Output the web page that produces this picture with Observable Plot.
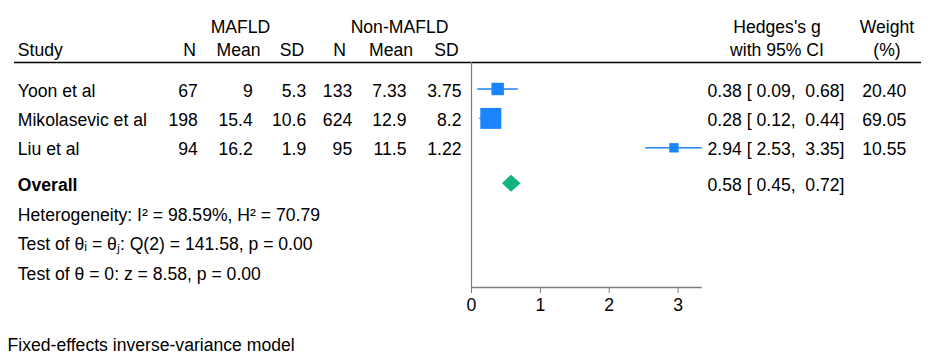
<!DOCTYPE html>
<html>
<head>
<meta charset="utf-8">
<script src="https://cdn.jsdelivr.net/npm/d3@7"></script>
<script src="https://cdn.jsdelivr.net/npm/@observablehq/plot@0.6"></script>
<style>
  html, body { margin: 0; padding: 0; background: #fff; }
  #chart { width: 936px; height: 356px; position: relative; overflow: hidden; font-family: "Liberation Sans", Arial, Helvetica, sans-serif; }
  #chart svg { display: block; }
  #caption { font-size: 17.6px; line-height: 1; color: #000; padding-left: 7.5px; padding-top: 19px; }
</style>
</head>
<body>
<div id="chart"></div>
<script>
// ---- data ----
const studies    = ["Yoon et al", "Mikolasevic et al", "Liu et al"];
const mafldN     = [67, 198, 94];
const mafldMean  = [9, 15.4, 16.2];
const mafldSD    = [5.3, 10.6, 1.9];
const nonN       = [133, 624, 95];
const nonMean    = [7.33, 12.9, 11.5];
const nonSD      = [3.75, 8.2, 1.22];
const hedgesG    = [0.38, 0.28, 2.94];
const ciLow      = [0.09, 0.12, 2.53];
const ciHigh     = [0.68, 0.44, 3.35];
const weightPct  = [20.40, 69.05, 10.55];
const overallLabel = "Overall";
const overallG   = 0.58;
const overallLow = 0.45;
const overallHigh = 0.72;
const statLines  = [
  "Heterogeneity: I\u00B2 = 98.59%, H\u00B2 = 70.79",
  "Test of \u03B8\u1D62 = \u03B8\u2C7C: Q(2) = 141.58, p = 0.00",
  "Test of \u03B8 = 0: z = 8.58, p = 0.00"
];
const xTicks = [0, 1, 2, 3];
const groupHeaders = ["MAFLD", "Non-MAFLD"];
const colHeaders = ["N", "Mean", "SD", "N", "Mean", "SD"];
const effectHeader = ["Hedges's g", "with 95% CI"];
const weightHeader = ["Weight", "(%)"];
const captionText = "Fixed-effects inverse-variance model";

// ---- layout / style ----
const W = 936, H = 318;
const mL = 14, mR = 15, mT = 62, mB = 31;
const FS = 17.6;
const blue = "#1a85ff", green = "#12b47e", grey = "#7f7f7f";
const summaryGap = 0.22;       // extra row space before the overall block
const rowHeadTop = -2.08, rowHeadBottom = -1.3; // header rows (row units)
const rowStart = -0.9, rowEnd = 6.75;
const dxOf = px => px - mL;    // pixel column -> dx from left frame edge

const f2 = d3.format(".2f");
const pad5 = s => (s.length < 5 ? "\u00A0".repeat(5 - s.length) : "") + s;
const ciText = (g, lo, hi) => `${f2(g)} [${pad5(f2(lo))},\u00A0${pad5(f2(hi))}]`;

const rows = studies.map((s, i) => ({
  study: s, row: i,
  n1: mafldN[i], m1: mafldMean[i], s1: mafldSD[i],
  n2: nonN[i], m2: nonMean[i], s2: nonSD[i],
  g: hedgesG[i], lo: ciLow[i], hi: ciHigh[i], w: weightPct[i],
  ci: ciText(hedgesG[i], ciLow[i], ciHigh[i]),
  wt: f2(weightPct[i])
}));
const overallRow = studies.length + summaryGap;
const summary = [{label: overallLabel, row: overallRow, ci: ciText(overallG, overallLow, overallHigh)}];
const stats = statLines.map((t, j) => ({label: t, row: overallRow + 1 + j}));
const halfH = 0.29; // diamond half-height in row units
const diamond = [
  {x: overallLow,  y1: overallRow, y2: overallRow},
  {x: overallG,    y1: overallRow - halfH, y2: overallRow + halfH},
  {x: overallHigh, y1: overallRow, y2: overallRow}
];

// column positions (px, right edges for numbers; centres for headers)
const numCols = [
  {key: "n1", px: 197.3}, {key: "m1", px: 252.3}, {key: "s1", px: 305.7},
  {key: "n2", px: 351.7}, {key: "m2", px: 406},   {key: "s2", px: 461}
];
const headCentres = [189, 238, 291.5, 339, 390.5, 446];
const groupCentres = [240, 399];
const effectRight = 844, weightRight = 905.7, effectCentre = 776.5, weightCentre = 886.5;
const studyLeft = 17.3;
const textDy = 2;

const marks = [
  Plot.ruleY([rowStart], {stroke: "#000", strokeWidth: 1.4}),
  Plot.ruleX([0], {stroke: grey, strokeWidth: 1.2}),
  Plot.ruleY([rowEnd], {x1: () => 0, x2: () => d3.max(ciHigh), stroke: grey, strokeWidth: 1.3}),
  // headers
  Plot.text([{t: "Study"}], {text: "t", y: () => rowHeadBottom, frameAnchor: "left", dx: dxOf(studyLeft), textAnchor: "start", fontSize: FS}),
  ...colHeaders.map((h, i) => Plot.text([{t: h}], {text: "t", y: () => rowHeadBottom, frameAnchor: "left", dx: dxOf(headCentres[i]), textAnchor: "middle", fontSize: FS})),
  ...groupHeaders.map((h, i) => Plot.text([{t: h}], {text: "t", y: () => rowHeadTop, frameAnchor: "left", dx: dxOf(groupCentres[i]), textAnchor: "middle", fontSize: FS})),
  Plot.text([{t: effectHeader[0]}], {text: "t", y: () => rowHeadTop, frameAnchor: "left", dx: dxOf(effectCentre), textAnchor: "middle", fontSize: FS}),
  Plot.text([{t: effectHeader[1]}], {text: "t", y: () => rowHeadBottom, frameAnchor: "left", dx: dxOf(effectCentre), textAnchor: "middle", fontSize: FS}),
  Plot.text([{t: weightHeader[0]}], {text: "t", y: () => rowHeadTop, frameAnchor: "left", dx: dxOf(weightCentre), textAnchor: "middle", fontSize: FS}),
  Plot.text([{t: weightHeader[1]}], {text: "t", y: () => rowHeadBottom, frameAnchor: "left", dx: dxOf(weightCentre), textAnchor: "middle", fontSize: FS}),
  // study rows
  Plot.text(rows, {text: "study", y: "row", frameAnchor: "left", dx: dxOf(studyLeft), dy: textDy, textAnchor: "start", fontSize: FS}),
  ...numCols.map(c => Plot.text(rows, {text: d => String(d[c.key]), y: "row", frameAnchor: "left", dx: dxOf(c.px), dy: textDy, textAnchor: "end", fontSize: FS})),
  Plot.text(rows, {text: "ci", y: "row", frameAnchor: "left", dx: dxOf(effectRight), dy: textDy, textAnchor: "end", fontSize: FS}),
  Plot.text(rows, {text: "wt", y: "row", frameAnchor: "left", dx: dxOf(weightRight), dy: textDy, textAnchor: "end", fontSize: FS}),
  // CIs and weighted squares
  Plot.ruleY(rows, {y: "row", x1: "lo", x2: "hi", stroke: blue, strokeWidth: 1.4}),
  Plot.dot(rows, {x: "g", y: "row", r: "w", symbol: "square", fill: blue, stroke: null}),
  // overall
  Plot.areaY(diamond, {x: "x", y1: "y1", y2: "y2", fill: green}),
  Plot.text(summary, {text: "label", y: "row", frameAnchor: "left", dx: dxOf(studyLeft), dy: textDy, textAnchor: "start", fontSize: FS, fontWeight: "bold"}),
  Plot.text(summary, {text: "ci", y: "row", frameAnchor: "left", dx: dxOf(effectRight), dy: textDy, textAnchor: "end", fontSize: FS}),
  Plot.text(stats, {text: "label", y: "row", frameAnchor: "left", dx: dxOf(studyLeft), dy: textDy, textAnchor: "start", fontSize: FS})
];

const svg = Plot.plot({
  width: W, height: H,
  marginLeft: mL, marginRight: mR, marginTop: mT, marginBottom: mB,
  style: {fontFamily: "'Liberation Sans', Arial, Helvetica, sans-serif", fontSize: FS + "px", background: "#fff", color: "#000", overflow: "visible"},
  x: {domain: [0, d3.max(ciHigh)], range: [471, 701.7], ticks: xTicks, tickSize: 6, tickPadding: 5, tickFormat: d3.format("d"), label: null},
  y: {domain: [rowStart, rowEnd], reverse: true, axis: null},
  r: {type: "pow", exponent: 0.43, domain: [0, d3.max(weightPct)], range: [0, 11.85]},
  marks
});

d3.select(svg).selectAll('g[aria-label^="x-axis"] line, g[aria-label^="x-axis"] path').attr("stroke", grey);

const chart = document.getElementById("chart");
chart.appendChild(svg);
const cap = document.createElement("div");
cap.id = "caption";
cap.textContent = captionText;
chart.appendChild(cap);
</script>
</body>
</html>
